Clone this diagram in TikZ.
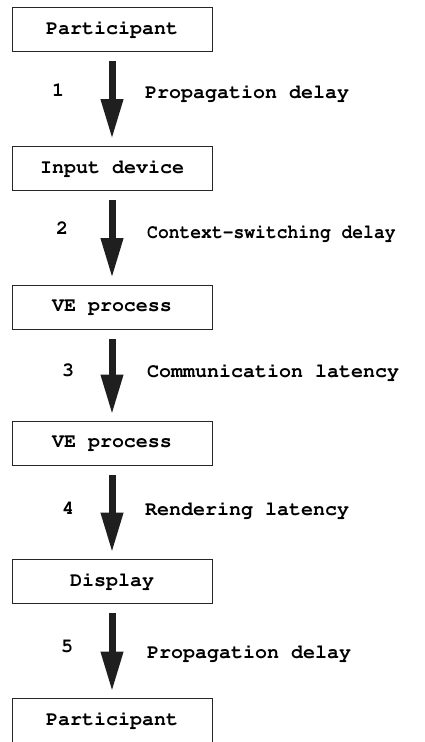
\documentclass[tikz,border=0pt]{standalone}
\usepackage[T1,TU]{fontenc}
\usepackage{graphicx}
\usetikzlibrary{arrows.meta}
\newcommand\lblfont{\fontencoding{T1}\fontfamily{pcr}\fontseries{b}\fontsize{20}{24}\selectfont}
\begin{document}
\begin{tikzpicture}[x=1pt,y=-1pt,
  box/.style={draw=black!85, line width=0.9pt, minimum width=200pt, minimum height=44pt, inner sep=0pt, font=\lblfont},
  flow/.style={line width=7pt, draw=black!88, -{Triangle[width=21pt,length=40pt]}, shorten <=9.5pt, shorten >=6.5pt},
  num/.style={font=\lblfont, inner sep=0pt},
  desc/.style={font=\lblfont, anchor=west, inner sep=0pt}]
\useasboundingbox (0,0) rectangle (425,742);
\node[box] (b1) at (112,29.5) {Participant};
\node[box] (b2) at (112,168) {Input device};
\node[box] (b3) at (112,307) {VE process};
\node[box] (b4) at (112,443.5) {VE process};
\node[box] (b5) at (112,581.5) {Display};
\node[box] (b6) at (112,720.5) {Participant};
\draw[flow] (b1) -- (b2);
\draw[flow] (b2) -- (b3);
\draw[flow] (b3) -- (b4);
\draw[flow] (b4) -- (b5);
\draw[flow] (b5) -- (b6);
\node[num] (n1) at (58,90) {1};
\node[num] (n2) at (62,228) {2};
\node[num] (n3) at (68,370) {3};
\node[num] (n4) at (68,508) {4};
\node[num] (n5) at (67,647) {5};
\node[desc] (d1) at (145,93) {Propagation delay};
\node[desc] (d2) at (147,233) {\scalebox{0.9}[1]{Context-switching delay}};
\node[desc] (d3) at (147,372) {Communication latency};
\node[desc] (d4) at (145,510) {Rendering latency};
\node[desc] (d5) at (147,653) {Propagation delay};
\end{tikzpicture}
\end{document}
